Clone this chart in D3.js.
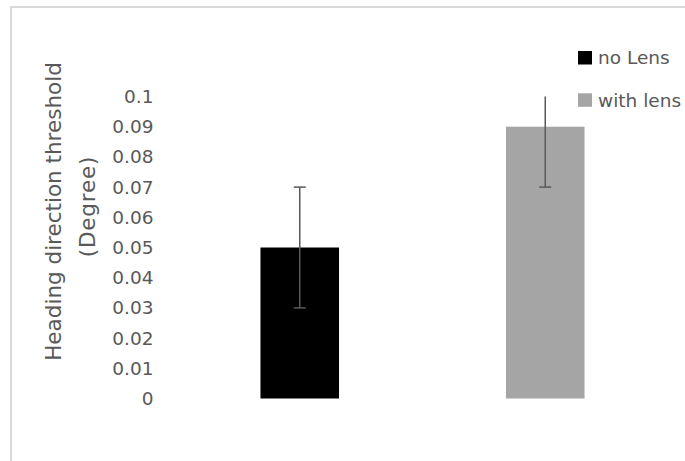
<!DOCTYPE html>
<html>
<head>
<meta charset="utf-8">
<script src="https://cdn.jsdelivr.net/npm/d3@7"></script>
<style>
  html, body { margin: 0; padding: 0; background: #fff; }
  svg { display: block; }
  text { font-family: "DejaVu Sans", sans-serif; fill: #595959; }
</style>
</head>
<body>
<svg id="chart" width="685" height="461"></svg>
<script>
// Data
const categories = ["no Lens", "with lens"];
const values = [0.05, 0.09];
const errors = [0.02, 0.02];
const colors = ["#000000", "#a5a5a5"];
const yTicks = [0, 0.01, 0.02, 0.03, 0.04, 0.05, 0.06, 0.07, 0.08, 0.09, 0.1];
const yMax = 0.1;
const yTitle = ["Heading direction threshold", "(Degree)"];

const svg = d3.select("#chart");
const W = 685, H = 461;
const plot = { left: 177, right: 668, top: 96.5, bottom: 398.5 };
const FONT = "DejaVu Sans, sans-serif";

// chart border (partly off-canvas like the source)
svg.append("rect")
  .attr("x", 11).attr("y", 7)
  .attr("width", W + 20).attr("height", H + 20)
  .attr("fill", "none").attr("stroke", "#d9d9d9").attr("stroke-width", 2);

const y = d3.scaleLinear().domain([0, yMax]).range([plot.bottom, plot.top]);
const x = d3.scaleBand().domain(categories).range([plot.left, plot.right])
  .paddingInner(0.68).paddingOuter(0.34);

// y axis
const yAxis = d3.axisLeft(y).tickValues(yTicks).tickSize(0).tickPadding(23.5)
  .tickFormat(d => String(+d.toFixed(2)));
const gy = svg.append("g").attr("transform", `translate(${plot.left},0)`).call(yAxis);
gy.select(".domain").remove();
gy.selectAll("text").attr("font-family", FONT)
  .attr("font-size", 18.5).attr("fill", "#595959");

// bars
svg.append("g").selectAll("rect").data(categories).join("rect")
  .attr("x", d => x(d))
  .attr("y", (d, i) => y(values[i]))
  .attr("width", x.bandwidth())
  .attr("height", (d, i) => y(0) - y(values[i]))
  .attr("fill", (d, i) => colors[i]);

// error bars
const eg = svg.append("g").attr("stroke", "#595959").attr("stroke-width", 1.5);
categories.forEach((c, i) => {
  const cx = x(c) + x.bandwidth() / 2;
  const hiRaw = values[i] + errors[i];
  const hi = Math.min(hiRaw, yMax);
  const lo = values[i] - errors[i];
  eg.append("line").attr("x1", cx).attr("x2", cx).attr("y1", y(hi)).attr("y2", y(lo));
  eg.append("line").attr("x1", cx - 6).attr("x2", cx + 6).attr("y1", y(lo)).attr("y2", y(lo));
  if (hiRaw <= yMax) {
    eg.append("line").attr("x1", cx - 6).attr("x2", cx + 6).attr("y1", y(hi)).attr("y2", y(hi));
  }
});

// y title
svg.append("text")
  .attr("transform", "translate(60.5,211.5) rotate(-90)")
  .attr("text-anchor", "middle").attr("font-family", FONT).attr("font-size", 21.5).text(yTitle[0]);
svg.append("text")
  .attr("transform", "translate(95,206.5) rotate(-90)")
  .attr("text-anchor", "middle").attr("font-family", FONT).attr("font-size", 21.5)
  .attr("letter-spacing", 0.8).text(yTitle[1]);

// legend
const lg = svg.append("g");
categories.forEach((c, i) => {
  const ly = 51 + i * 42.3;
  lg.append("rect").attr("x", 578).attr("y", ly).attr("width", 14).attr("height", 13.5)
    .attr("fill", colors[i]);
  lg.append("text").attr("x", 598).attr("y", ly + 6.75).attr("dy", "0.35em")
    .attr("font-family", FONT).attr("font-size", 18.5).text(c);
});
</script>
</body>
</html>
